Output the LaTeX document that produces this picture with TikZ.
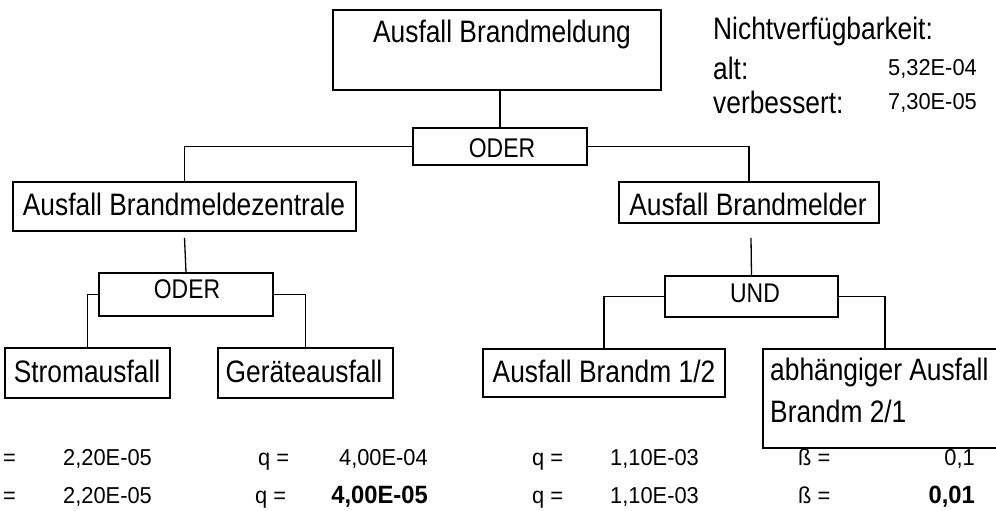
\documentclass[tikz,border=0pt]{standalone}
\usepackage{fontspec}
\setmainfont{Liberation Sans}
\newfontfamily\lblfont[FakeStretch=0.85]{Liberation Sans}
\newfontfamily\numfont[FakeStretch=0.95]{Liberation Sans}
\usetikzlibrary{calc}
\begin{document}
\begin{tikzpicture}[x=1pt,y=-1pt,
  box/.style={draw, line width=1.6pt, inner sep=0pt, rectangle},
  conn/.style={line width=1.3pt},
  lbl/.style={inner sep=0pt, font=\lblfont\fontsize{31}{37}\selectfont},
  gate/.style={inner sep=0pt, font=\lblfont\fontsize{27}{32}\selectfont},
  num/.style={inner sep=0pt, font=\numfont\fontsize{23}{27}\selectfont},
  bnum/.style={inner sep=0pt, font=\numfont\bfseries\fontsize{25}{29}\selectfont}]
\useasboundingbox (0,0) rectangle (996,511);
\fill[white] (0,0) rectangle (996,511);
\clip (0,0) rectangle (996,511);

% boxes
\node[box, minimum width=328pt, minimum height=80pt] (top) at (497,50) {};
\node[box, minimum width=174pt, minimum height=37pt] (oder1) at (500,146.5) {};
\node[box, minimum width=343pt, minimum height=49pt] (bmz) at (184.5,206.5) {};
\node[box, minimum width=260pt, minimum height=41pt] (bm) at (749,202.5) {};
\node[box, minimum width=174pt, minimum height=43pt] (oder2) at (186,294.5) {};
\node[box, minimum width=173pt, minimum height=41pt] (und) at (751.5,296.5) {};
\node[box, minimum width=165pt, minimum height=50pt] (strom) at (87.5,373) {};
\node[box, minimum width=175pt, minimum height=50pt] (geraet) at (305.5,373) {};
\node[box, minimum width=242pt, minimum height=48pt] (b12) at (604,373) {};
\node[box, minimum width=244pt, minimum height=99pt] (abh) at (885,398.5) {};

% connectors
\draw[conn] (top.south -| oder1.north) -- (oder1.north);
\draw[conn] (oder1.west) -| (bmz.north);
\draw[conn] (oder1.east) -| (bm.north);
\draw[conn] ($(bmz.south)+(0,6)$) -- (oder2.north);
\draw[conn] (oder2.west) -| (strom.north);
\draw[conn] (oder2.east) -| (geraet.north);
\draw[conn] ($(bm.south)+(2,14)$) -- (und.north);
\draw[conn] (und.west) -| (b12.north);
\draw[conn] (und.east) -| (abh.north);

% box labels
\node[lbl, anchor=base] (ttop) at (502,43) {Ausfall Brandmeldung};
\node[gate, anchor=base] (toder1) at (502,157) {ODER};
\node[lbl, anchor=base] (tbmz) at (184,215) {Ausfall Brandmeldezentrale};
\node[gate, anchor=base] (toder2) at (187,298) {ODER};
\node[lbl, anchor=base] (tbm) at (748,215) {Ausfall Brandmelder};
\node[gate, anchor=base] (tund) at (755,302) {UND};
\node[lbl, anchor=base] (tstrom) at (87,382) {Stromausfall};
\node[lbl, anchor=base] (tgeraet) at (304,382) {Geräteausfall};
\node[lbl, anchor=base] (tb12) at (604,382) {Ausfall Brandm 1/2};
\node[lbl, anchor=base west] (tabh1) at (770,380) {abhängiger Ausfall};
\node[lbl, anchor=base west] (tabh2) at (770,422) {Brandm 2/1};

% top right legend
\node[lbl, anchor=base west] (nv) at (713,40) {Nichtverfügbarkeit:};
\node[lbl, anchor=base west] (alt) at (713,80) {alt:};
\node[num, anchor=base east] (altv) at (977,75) {5,32E-04};
\node[lbl, anchor=base west] (verb) at (713,113) {verbessert:};
\node[num, anchor=base east] (verbv) at (977,110) {7,30E-05};

% bottom values row 1
\node[num, anchor=base west] (r1a) at (3,465) {=};
\node[num, anchor=base west] (r1b) at (63,465) {2,20E-05};
\node[num, anchor=base west] (r1c) at (258,465) {q =};
\node[num, anchor=base east] (r1d) at (428,465) {4,00E-04};
\node[num, anchor=base west] (r1e) at (532,465) {q =};
\node[num, anchor=base west] (r1f) at (610,465) {1,10E-03};
\node[num, anchor=base west] (r1g) at (798,465) {ß =};
\node[num, anchor=base east] (r1h) at (975,465) {0,1};

% bottom values row 2
\node[num, anchor=base west] (r2a) at (3,503) {=};
\node[num, anchor=base west] (r2b) at (63,503) {2,20E-05};
\node[num, anchor=base west] (r2c) at (255,503) {q =};
\node[bnum, anchor=base east] (r2d) at (428,503) {4,00E-05};
\node[num, anchor=base west] (r2e) at (532,503) {q =};
\node[num, anchor=base west] (r2f) at (610,503) {1,10E-03};
\node[num, anchor=base west] (r2g) at (798,503) {ß =};
\node[bnum, anchor=base east] (r2h) at (975,503) {0,01};
\end{tikzpicture}
\end{document}
